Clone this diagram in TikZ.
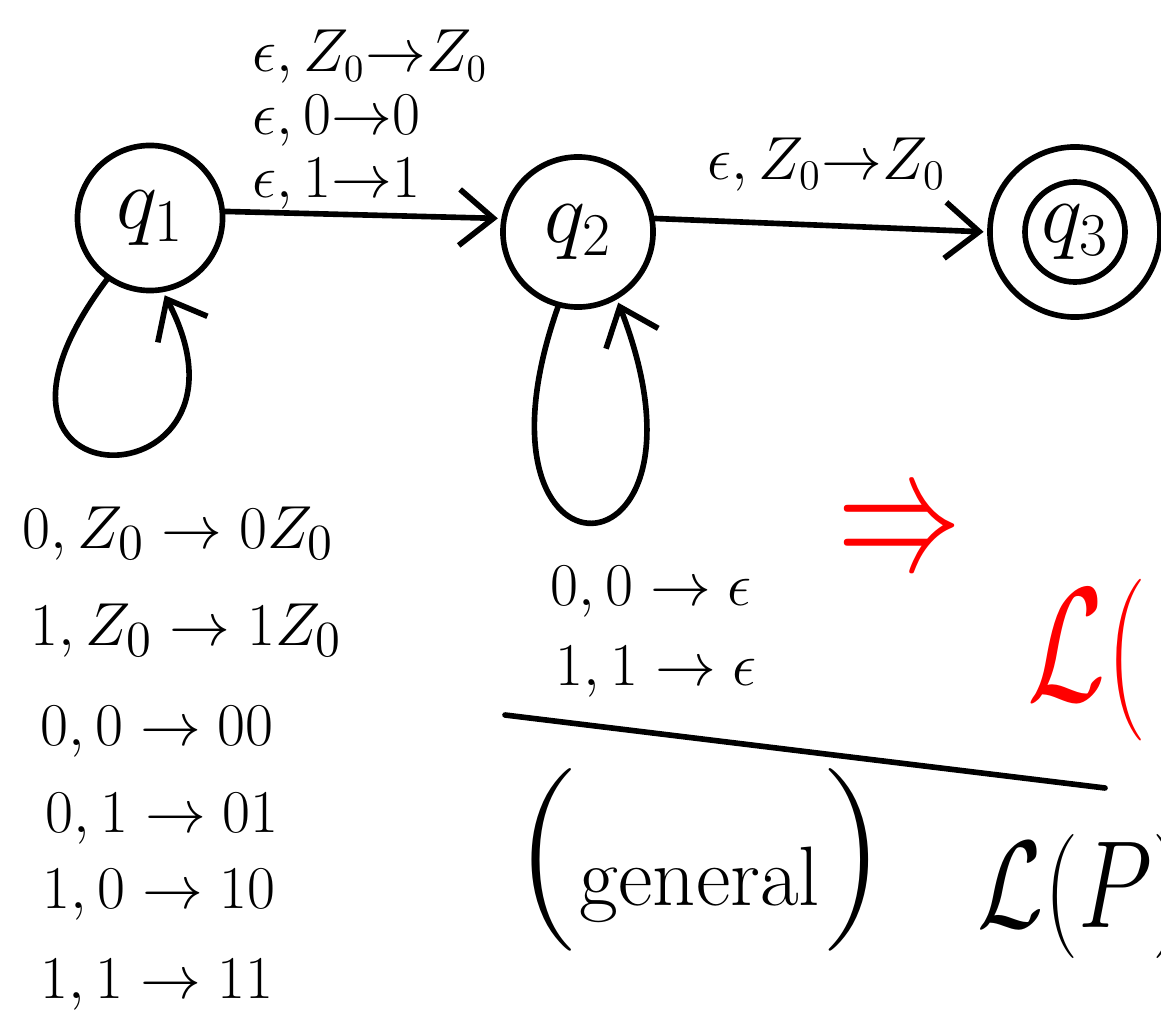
\documentclass[tikz,border=0pt]{standalone}
\usepackage{amsmath,amssymb}
\usetikzlibrary{arrows.meta,positioning}
\tikzset{
    every picture/.style={line width=1.6pt, line cap=round, line join=round},
    % states of the PDA
    state/.style={circle,draw,minimum size=1.45cm,inner sep=0pt,font=\fontsize{24}{24}\selectfont},
    accept/.style={state,minimum size=1.7cm,path picture={\draw[line width=1.6pt] (path picture bounding box.center) circle (0.5cm);}},
    % edges and labels
    trans/.style={->, shorten >=1pt},
    lbl/.style={inner sep=0pt,font=\fontsize{19}{19}\selectfont},
    toplbl/.style={inner sep=0pt,anchor=base west,font=\fontsize{16}{16}\selectfont},
    big/.style={inner sep=0pt,font=\fontsize{24}{24}\selectfont}
}

\begin{document}
\begin{tikzpicture}[x=0.01cm,y=-0.01cm,>={Straight Barb[length=3.4mm,width=5.6mm]}]
    \useasboundingbox (0,0) rectangle (1161,1019);
    \clip (0,0) rectangle (1161,1019);
    % States
    \node[state] (q1) at (150,218) {$q_1$};
    \node[state,minimum size=1.5cm] (q2) at (578,232) {$q_2$};
    \node[accept] (q3) at (1075,232) {$q_3$};
    % Transitions
    \draw[trans] (q1.5) -- (q2.170);
    \draw[trans] (q2.10) -- (q3.west);
    \draw[trans] (q1.235) .. controls (-70,515) and (275,505) .. (q1.280);
    \draw[trans] (q2.255) .. controls (455,600) and (730,590) .. (q2.300);
    % Edge labels
    \node[toplbl] (l12a) at (250,72) {$\epsilon,Z_0{\to}Z_0$};
    \node[toplbl] (l12b) at (250,135) {$\epsilon,0{\to}0$};
    \node[toplbl] (l12c) at (250,198) {$\epsilon,1{\to}1$};
    \node[toplbl,font=\fontsize{17}{17}\selectfont] (l23) at (705,180) {$\epsilon,Z_0{\to}Z_0$};
    \foreach \x/\y/\t [count=\i] in {20/548/{0, Z_0\to 0Z_0}, 28/645/{1, Z_0\to 1Z_0}, 38/745/{0,0\to 00}, 43/832/{0,1\to 01}, 40/908/{1,0\to 10}, 38/998/{1,1\to 11}}
        \node[lbl,anchor=base west] (a\i) at (\x,\y) {$\t$};
    \node[lbl,anchor=base west] (b1) at (548,605) {$0,0\to \epsilon$};
    \node[lbl,anchor=base west] (b2) at (553,685) {$1,1\to \epsilon$};
    % Notes on the right
    \draw (505,715) -- (1105,788);
    \node (gen) at (700,860) {\fontsize{52}{52}\selectfont(\fontsize{24}{24}\selectfont general\fontsize{52}{52}\selectfont)};
    \node[big,text=red] (imp) at (900,537) {\scalebox{1.42}[2.0]{$\Rightarrow$}};
    \node[big,text=red,anchor=base west] (lred) at (1025,700) {\scalebox{1.3}[1.85]{$\mathcal{L}($}};
    \node[big,anchor=base west] (lp) at (975,927) {\scalebox{1.1}[1.42]{$\mathcal{L}(P)$}};
\end{tikzpicture}
\end{document}
